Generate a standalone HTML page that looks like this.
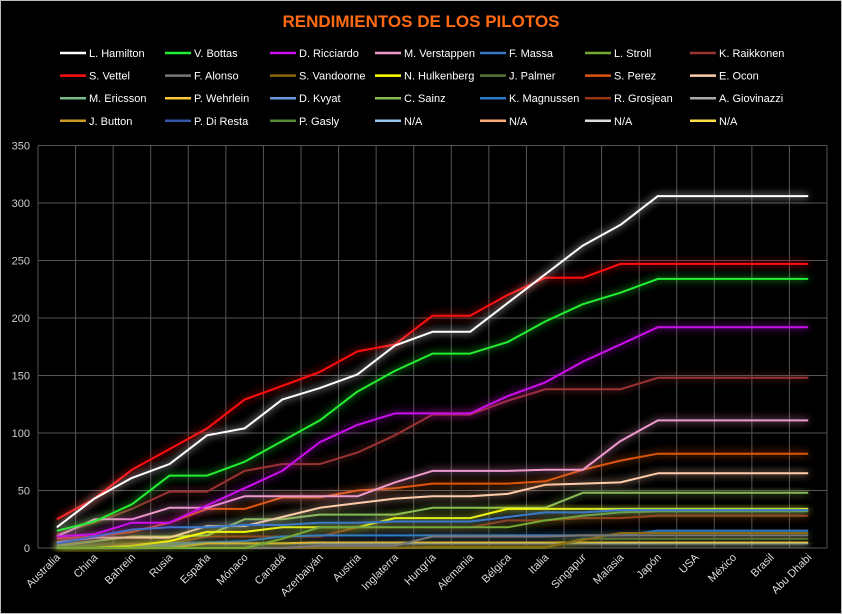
<!DOCTYPE html>
<html><head><meta charset="utf-8"><style>
html,body{margin:0;padding:0;background:#000;}
svg{display:block;font-family:"Liberation Sans",sans-serif;}
</style></head><body>
<svg id="chart" width="842" height="614" viewBox="0 0 842 614">
<defs><filter id="glow" x="-10%" y="-10%" width="120%" height="120%"><feGaussianBlur stdDeviation="4" result="b"/><feMerge><feMergeNode in="b"/><feMergeNode in="SourceGraphic"/></feMerge></filter></defs>
<rect x="0.5" y="0.5" width="841" height="613" fill="#000" stroke="#bbb"/>
<text x="421" y="27" text-anchor="middle" fill="#ff6a13" font-size="17" font-weight="bold">RENDIMIENTOS DE LOS PILOTOS</text>
<g id="grid"></g><g id="legend"></g><g id="series"></g><g id="axes"></g>
</svg>
<script>
const categories=["Australia","China","Bahrein","Rusia","España","Mónaco","Canadá","Azerbaiyán","Austria","Inglaterra","Hungría","Alemania","Bélgica","Italia","Singapur","Malasia","Japón","USA","México","Brasil","Abu Dhabi"];
const yTicks=[0,50,100,150,200,250,300,350];
const names=["L. Hamilton","V. Bottas","D. Ricciardo","M. Verstappen","F. Massa","L. Stroll","K. Raikkonen","S. Vettel","F. Alonso","S. Vandoorne","N. Hulkenberg","J. Palmer","S. Perez","E. Ocon","M. Ericsson","P. Wehrlein","D. Kvyat","C. Sainz","K. Magnussen","R. Grosjean","A. Giovinazzi","J. Button","P. Di Resta","P. Gasly","N/A","N/A","N/A","N/A"];
const colors=["#ffffff","#22ee33","#cc11ee","#ee99cc","#3a78c8","#77aa33","#993333","#ff1111","#777777","#8a6a10","#ffff00","#557733","#dd5511","#ffccaa","#77bb88","#ffcc33","#6699dd","#88bb55","#2a7acc","#993311","#aaaaaa","#cc9922","#3355aa","#558833","#99c4ee","#ffaa77","#dddddd","#ffdd44"];
const hamilton=[18,43,61,73,98,104,129,139,151,176,188,188,213,238,263,281,306,306,306,306,306];
const bottas=[15,23,38,63,63,75,93,111,136,154,169,169,179,197,212,222,234,234,234,234,234];
const ricciardo=[10,12,22,22,37,52,67,92,107,117,117,117,132,144,162,177,192,192,192,192,192];
const verstappen=[10,25,25,35,35,45,45,45,45,57,67,67,67,68,68,93,111,111,111,111,111];
const massa=[4,10,16,18,18,20,20,22,22,23,23,23,27,31,31,33,33,33,33,33,33];
const stroll=[0,0,0,0,0,0,8,18,18,18,18,18,18,24,28,31,32,32,32,32,32];
const raikkonen=[12,22,34,49,49,67,73,73,83,98,116,116,128,138,138,138,148,148,148,148,148];
const vettel=[25,43,68,86,104,129,141,153,171,177,202,202,220,235,235,247,247,247,247,247,247];
const alonso=[0,0,0,0,0,0,0,2,2,2,10,10,10,10,11,11,11,11,11,11,11];
const vandoorne=[0,0,0,0,0,0,0,0,0,0,1,1,1,1,7,13,13,13,13,13,13];
const hulkenberg=[0,0,2,6,14,14,18,18,18,26,26,26,34,34,34,34,34,34,34,34,34];
const palmer=[0,0,0,0,0,0,0,0,0,0,0,0,0,0,8,8,8,8,8,8,8];
const perez=[8,10,14,22,34,34,44,44,50,52,56,56,56,58,68,76,82,82,82,82,82];
const ocon=[5,9,9,9,19,19,27,35,39,43,45,45,47,55,56,57,65,65,65,65,65];
const ericsson=[0,0,0,0,0,0,0,0,0,0,0,0,0,0,0,0,0,0,0,0,0];
const wehrlein=[0,0,0,0,4,4,4,5,5,5,5,5,5,5,5,5,5,5,5,5,5];
const kvyat=[0,0,2,2,4,4,4,4,4,4,4,4,4,4,4,4,4,4,4,4,4];
const sainz=[2,6,10,10,11,25,25,29,29,29,35,35,35,35,48,48,48,48,48,48,48];
const magnussen=[0,0,0,4,5,6,10,11,11,11,11,11,11,11,11,11,15,15,15,15,15];
const grosjean=[0,0,4,4,10,10,10,10,18,18,18,18,24,24,26,26,28,28,28,28,28];
const giovinazzi=[0,0,0,0,0,0,0,0,0,0,0,0,0,0,0,0,0,0,0,0,0];
const button=[0,0,0,0,0,0,0,0,0,0,0,0,0,0,0,0,0,0,0,0,0];
const diresta=[0,0,0,0,0,0,0,0,0,0,0,0,0,0,0,0,0,0,0,0,0];
const gasly=[0,0,0,0,0,0,0,0,0,0,0,0,0,0,0,0,0,0,0,0,0];
const na1=[0,0,0,0,0,0,0,0,0,0,0,0,0,0,0,0,0,0,0,0,0];
const na2=[0,0,0,0,0,0,0,0,0,0,0,0,0,0,0,0,0,0,0,0,0];
const na3=[0,0,0,0,0,0,0,0,0,0,0,0,0,0,0,0,0,0,0,0,0];
const na4=[0,0,0,0,0,0,0,0,0,0,0,0,0,0,0,0,0,0,0,0,0];
const seriesData=[hamilton,bottas,ricciardo,verstappen,massa,stroll,raikkonen,vettel,alonso,vandoorne,hulkenberg,palmer,perez,ocon,ericsson,wehrlein,kvyat,sainz,magnussen,grosjean,giovinazzi,button,diresta,gasly,na1,na2,na3,na4];

const NS="http://www.w3.org/2000/svg";
const X0=38,X1=827,Y0=548,Y1=145.5,YMAX=350;
const bw=(X1-X0)/categories.length;
function xPos(i){return X0+bw*(i+0.5);}
function yPos(v){return Y0-(v/YMAX)*(Y0-Y1);}
function mk(tag,attrs,parent){const e=document.createElementNS(NS,tag);for(const k in attrs)e.setAttribute(k,attrs[k]);parent.appendChild(e);return e;}

const grid=document.getElementById('grid');
yTicks.forEach(t=>{
  const l=mk('line',{x1:X0,x2:X1,y1:yPos(t),y2:yPos(t),stroke:'#555','stroke-width':1},grid);
  
  
  const tx=mk('text',{x:X0-8,y:yPos(t)+4,'text-anchor':'end',fill:'#ccc','font-size':11},grid);
  tx.textContent=t;
  
  
});
for(let i=0;i<=categories.length;i++){
  const x=X0+bw*i;
  const l=mk('line',{x1:x,x2:x,y1:Y1,y2:Y0,stroke:'#555','stroke-width':1},grid);
  
  
}
categories.forEach((c,i)=>{
  const x=xPos(i)+4,y=Y0+10;
  const tx=mk('text',{x:x,y:y,'text-anchor':'end',fill:'#ddd','font-size':11,transform:`rotate(-45 ${x} ${y})`},grid);
  tx.textContent=c;
  
  
});

const sg=document.getElementById('series');
for(let s=seriesData.length-1;s>=0;s--){
  const pts=seriesData[s].map((v,i)=>xPos(i).toFixed(1)+','+yPos(v).toFixed(1)).join(' ');
  const p=mk('polyline',{points:pts,fill:'none',stroke:colors[s],'stroke-width':2,'stroke-linejoin':'round',filter:'url(#glow)'},sg);
  
  
}

const lg=document.getElementById('legend');
names.forEach((n,i)=>{
  const col=i%7,row=Math.floor(i/7);
  const x=60+col*105,y=53+row*22.6;
  const g=mk('g',{},lg);
  
  
  mk('line',{x1:x,x2:x+26,y1:y,y2:y,stroke:colors[i],'stroke-width':2.5},g);
  const t=mk('text',{x:x+29,y:y+4,fill:'#fff','font-size':11},g);
  t.textContent=n;
});
</script>
</body></html>
